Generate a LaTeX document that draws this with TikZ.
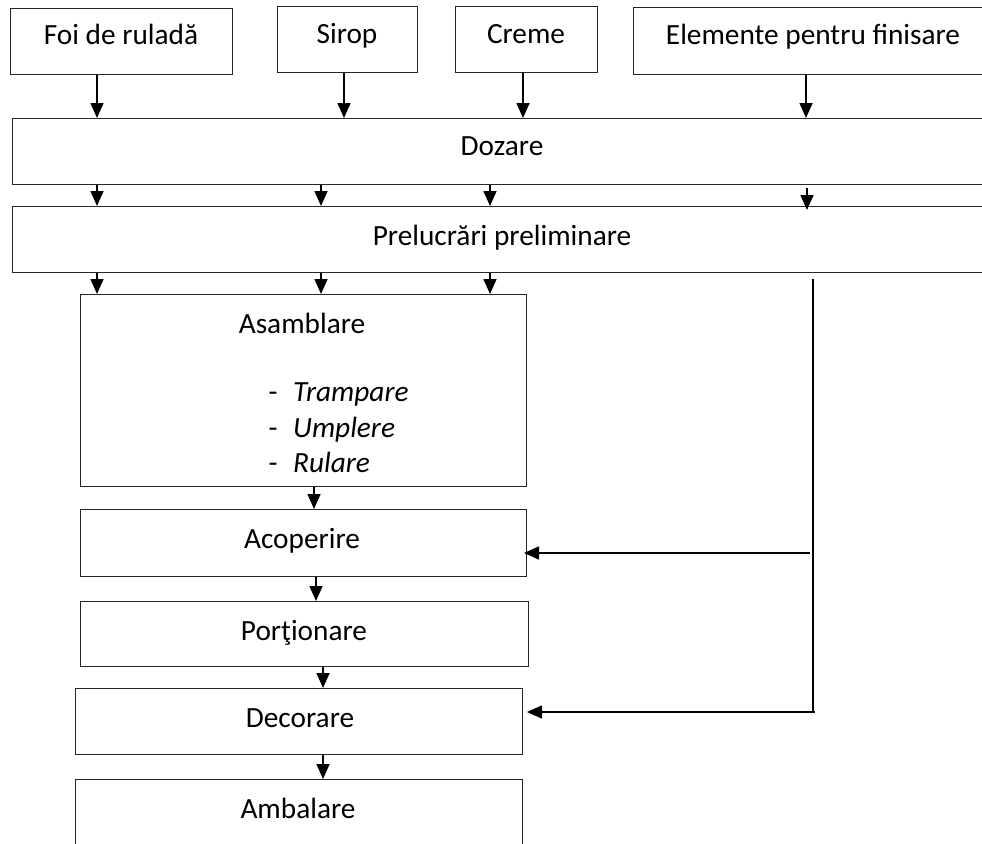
\documentclass[tikz,border=0pt]{standalone}
\usepackage{fontspec}
\setmainfont{Carlito}
\usetikzlibrary{arrows.meta}
\begin{document}
\begin{tikzpicture}[x=1pt,y=-1pt,
  box/.style={draw=black!85, line width=1pt, rectangle, inner sep=0pt, anchor=north west},
  lbl/.style={anchor=base, inner sep=0pt, font=\fontsize{29.3}{35}\selectfont},
  arr/.style={line width=1.6pt, -{Triangle[length=15pt,width=13pt]}},
  conn/.style={line width=1.2pt}]
\useasboundingbox (0,0) rectangle (982,843);
\clip (0,0) rectangle (982,843);
\fill[white] (0,0) rectangle (982,843);
% boxes
\node[box, minimum width=222pt, minimum height=66pt] (foi) at (10,8) {};
\node[box, minimum width=140pt, minimum height=66pt] (sirop) at (277,6) {};
\node[box, minimum width=142pt, minimum height=66pt] (creme) at (455,6) {};
\node[box, minimum width=359pt, minimum height=67pt] (elem) at (633,7) {};
\node[box, minimum width=980pt, minimum height=66pt] (doz) at (12,118) {};
\node[box, minimum width=980pt, minimum height=66pt] (prel) at (12,206) {};
\node[box, minimum width=446pt, minimum height=192pt] (asam) at (80,294) {};
\node[box, minimum width=446pt, minimum height=67pt] (acop) at (80,509) {};
\node[box, minimum width=448pt, minimum height=65pt] (port) at (80,601) {};
\node[box, minimum width=447pt, minimum height=66pt] (deco) at (75,688) {};
\node[box, minimum width=447pt, minimum height=90pt] (amb) at (75,779) {};
% labels
\node[lbl] (tfoi) at (121,45) {Foi de ruladă};
\node[lbl] (tsirop) at (347,44) {Sirop};
\node[lbl] (tcreme) at (526,44) {Creme};
\node[lbl] (telem) at (813,45) {Elemente pentru finisare};
\node[lbl] (tdoz) at (502,155) {Dozare};
\node[lbl] (tprel) at (502,245) {Prelucrări preliminare};
\node[lbl] (tasam) at (302,333) {Asamblare};
\node[lbl, anchor=base west] (t1) at (293,401) {\itshape Trampare};
\node[lbl, anchor=base west] (t2) at (293,437) {\itshape Umplere};
\node[lbl, anchor=base west] (t3) at (293,472) {\itshape Rulare};
\node[lbl] (d1) at (273,401) {-};
\node[lbl] (d2) at (273,437) {-};
\node[lbl] (d3) at (273,472) {-};
\node[lbl] (tacop) at (302,548) {Acoperire};
\node[lbl] (tport) at (304,640) {Porţionare};
\node[lbl] (tdeco) at (300,727) {Decorare};
\node[lbl] (tamb) at (298,818) {Ambalare};
% x positions for connectors
\coordinate (xa) at (97,0);
\coordinate (xs) at (344,0);
\coordinate (xc) at (523,0);
\coordinate (xe) at (806,0);
\coordinate (xb) at (321,0);
\coordinate (xd) at (490,0);
\coordinate (xf) at (314,0);
\coordinate (xg) at (316,0);
\coordinate (xh) at (323,0);
\coordinate (v1) at (813,279);
\coordinate (v2) at (810,553);
\coordinate (v3) at (813,712);
\coordinate (e1) at (807,188);
\coordinate (e2) at (807,210);
% connectors
\draw[arr] (xa |- foi.south) -- (xa |- doz.north);
\draw[arr] (xs |- sirop.south) -- (xs |- doz.north);
\draw[arr] (xc |- creme.south) -- (xc |- doz.north);
\draw[arr] (xe |- elem.south) -- (xe |- doz.north);
\draw[arr] (xa |- doz.south) -- (xa |- prel.north);
\draw[arr] (xb |- doz.south) -- (xb |- prel.north);
\draw[arr] (xd |- doz.south) -- (xd |- prel.north);
\draw[arr] (e1) -- (e2);
\draw[arr] (xa |- prel.south) -- (xa |- asam.north);
\draw[arr] (xb |- prel.south) -- (xb |- asam.north);
\draw[arr] (xd |- prel.south) -- (xd |- asam.north);
\draw[arr] (xf |- asam.south) -- (xf |- acop.north);
\draw[arr] (xg |- acop.south) -- (xg |- port.north);
\draw[arr] (xh |- port.south) -- (xh |- deco.north);
\draw[arr] (xh |- deco.south) -- (xh |- amb.north);
\draw[conn] (v1) -- (v3);
\draw[arr] (v2) -- ([xshift=-3pt]v2 -| acop.east);
\draw[arr] ([xshift=2pt]v3) -- ([xshift=4pt]v3 -| deco.east);
\end{tikzpicture}
\end{document}
